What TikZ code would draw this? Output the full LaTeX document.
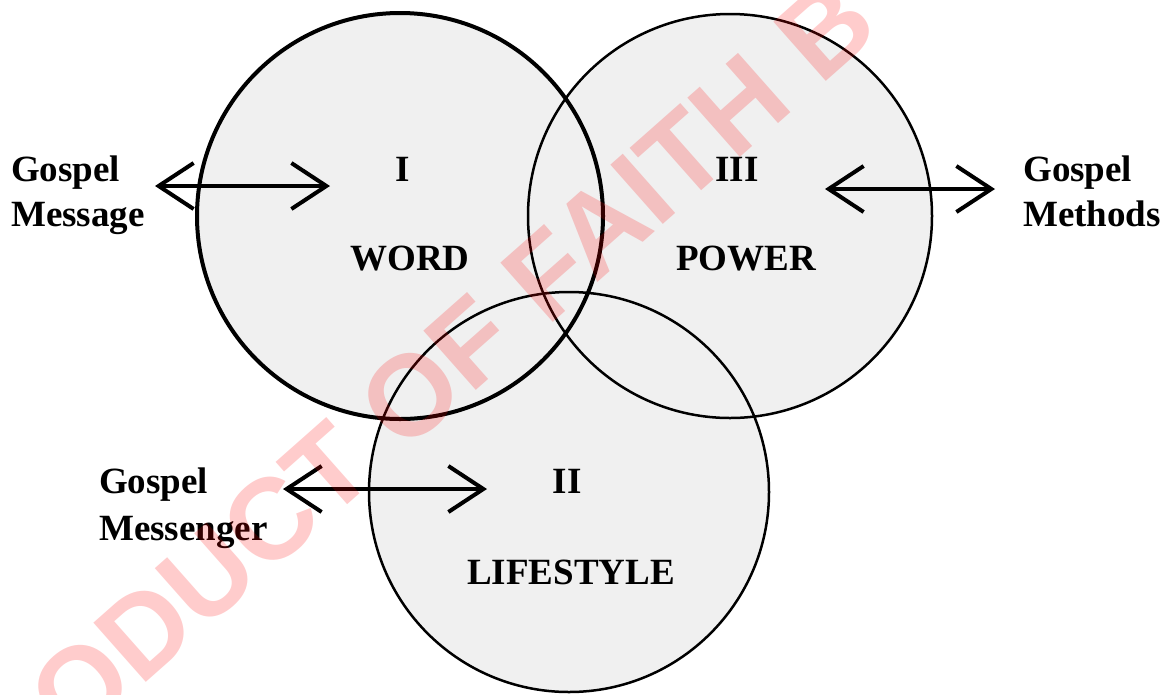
\documentclass[tikz,border=0pt]{standalone}
\usepackage{fontspec}
\setmainfont{Liberation Serif}
\newfontfamily\markfont{Liberation Sans}
\usetikzlibrary{arrows.meta}

\tikzset{
  zone/.style={fill={rgb,255:red,240;green,240;blue,240}},
  lbl/.style={inner sep=0pt, font=\fontsize{37}{44}\selectfont\bfseries},
  dblarrow/.style={line width=4pt,
    {Straight Barb[length=35pt,width=46pt]}-{Straight Barb[length=35pt,width=46pt]}}
}

\begin{document}
\begin{tikzpicture}[x=1pt,y=-1pt]

  \useasboundingbox (0,0) rectangle (1166,694);

  \coordinate (cword) at (400,216);
  \coordinate (cpower) at (730,216);
  \coordinate (clife) at (569,492);

  % circles
  \fill[zone] (cword) circle (203) (cpower) circle (202) (clife) circle (200);
  \draw[line width=4pt] (cword) circle (203);
  \draw[line width=2.5pt] (cpower) circle (202);
  \draw[line width=2.5pt] (clife) circle (200);

  % inside
  \node[lbl, anchor=base] (one) at (403,181) {I};
  \node[lbl, anchor=base] (word) at (410,270) {WORD};
  \node[lbl, anchor=base] (three) at (737,181) {III};
  \node[lbl, anchor=base] (power) at (746,270) {POWER};
  \node[lbl, anchor=base] (two) at (567,493) {II};
  \node[lbl, anchor=base] (life) at (571,584) {LIFESTYLE};

  % outside
  \node[lbl, anchor=base west] (msgA) at (11,181) {Gospel};
  \node[lbl, anchor=base west] (msgB) at (11,226) {Message};
  \node[lbl, anchor=base west] (methA) at (1023,181) {Gospel};
  \node[lbl, anchor=base west] (methB) at (1023,226) {Methods};
  \node[lbl, anchor=base west] (mgrA) at (99,493) {Gospel};
  \node[lbl, anchor=base west] (mgrB) at (99,540) {Messenger};

  \coordinate (msgend) at (155,186);
  \coordinate (oneend) at (330,186);
  \coordinate (threeend) at (825,189);
  \coordinate (methend) at (995,189);
  \coordinate (mgrend) at (283,489);
  \coordinate (twoend) at (487,489);

  \draw[dblarrow] (msgend) -- (oneend);
  \draw[dblarrow] (threeend) -- (methend);
  \draw[dblarrow] (mgrend) -- (twoend);

  % watermark
  \begin{scope}
    \clip (0,0) rectangle (1166,694);
    \node[inner sep=0pt, rotate=41.5, text=red, text opacity=0.2,
      font=\markfont\fontsize{115}{115}\selectfont\bfseries] (mark) at (392,412)
      {PRODUCT OF FAITH B};
  \end{scope}

\end{tikzpicture}
\end{document}
